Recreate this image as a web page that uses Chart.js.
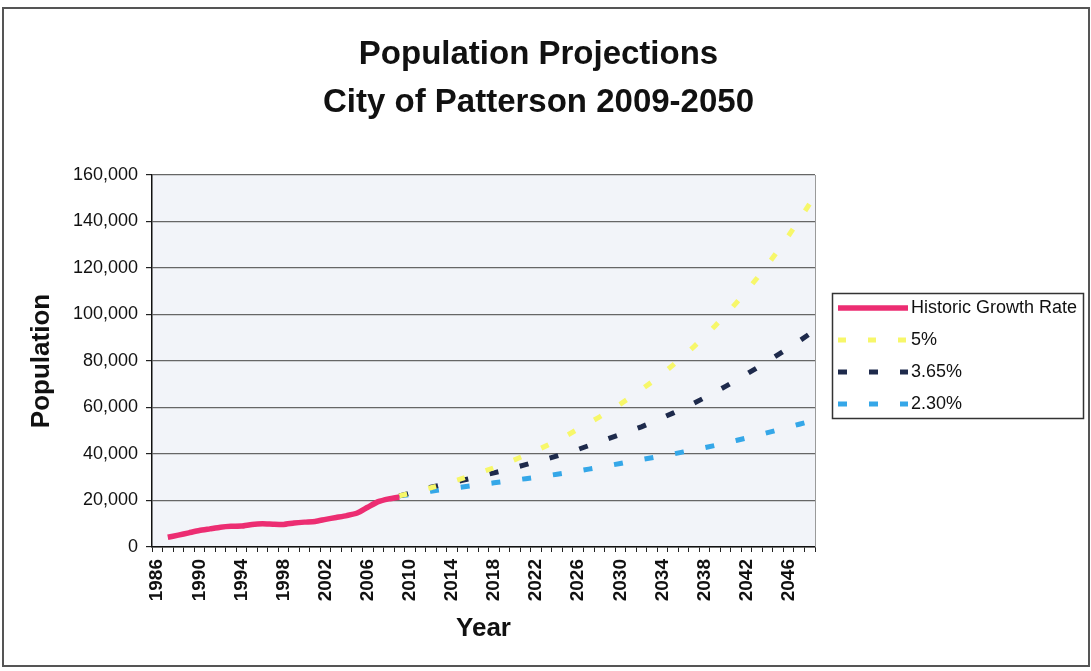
<!DOCTYPE html>
<html>
<head>
<meta charset="utf-8">
<title>Population Projections - City of Patterson</title>
<script src="https://cdn.jsdelivr.net/npm/chart.js@4.4.1/dist/chart.umd.min.js"></script>
<style>
  body { margin: 0; background: #fff; }
  #wrap { width: 1091px; height: 671px; }
</style>
</head>
<body>
<div id="wrap"><canvas id="popChart" width="1091" height="671"></canvas></div>
<script>
// categories: one per year
const years = [
  '1986','1987','1988','1989','1990','1991','1992','1993','1994','1995',
  '1996','1997','1998','1999','2000','2001','2002','2003','2004','2005',
  '2006','2007','2008','2009','2010','2011','2012','2013','2014','2015',
  '2016','2017','2018','2019','2020','2021','2022','2023','2024','2025',
  '2026','2027','2028','2029','2030','2031','2032','2033','2034','2035',
  '2036','2037','2038','2039','2040','2041','2042','2043','2044','2045',
  '2046','2047','2048'
];
const yearLabels = ['1986','1990','1994','1998','2002','2006','2010','2014','2018',
  '2022','2026','2030','2034','2038','2042','2046'];
const yTicks = [0, 20000, 40000, 60000, 80000, 100000, 120000, 140000, 160000];

// 1986 - 2009
const historic = [null, 4200, 5100, 6100, 7100, 7800, 8500, 8900, 9000, 9700,
  10000, 9800, 9700, 10300, 10700, 11000, 11900, 12700, 13500, 14600,
  17100, 19500, 20700, 21500];

// 2009 - 2048
const rate5 = [22000, 23100, 24300, 25500, 26700, 28100, 29500, 31000, 32500, 34100,
  35800, 37600, 39500, 41500, 43600, 45800, 48200, 50800, 53300, 55900,
  58600, 61500, 64500, 67700, 71000, 74500, 78200, 82100, 86200, 90600,
  95100, 99900, 104900, 110200, 115700, 121500, 127600, 134000, 140700, 147700];
const rate365 = [22000, 23200, 24500, 25700, 26700, 27700, 28700, 29700, 30800, 31900,
  33000, 34200, 35400, 36700, 37900, 39200, 40600, 42000, 43600, 45200,
  46800, 48400, 50000, 51700, 53600, 55600, 57600, 59700, 61900, 64200,
  66600, 69100, 71700, 74400, 77100, 79900, 82700, 85600, 88600, 91700];
const rate230 = [22000, 22600, 23300, 24000, 24600, 25200, 25800, 26400, 27000, 27600,
  28200, 28800, 29400, 30000, 30600, 31300, 32000, 32700, 33500, 34300,
  35100, 35900, 36800, 37600, 38400, 39200, 40000, 40900, 41800, 42700,
  43700, 44700, 45800, 46900, 48000, 49200, 50400, 51600, 52800, 54000];

const FONT = "'Liberation Sans', Arial, Helvetica, sans-serif";
const lead = Array(years.indexOf('2009')).fill(null);

const plotBackground = {
  id: 'plotBackground',
  beforeDraw(chart) {
    const {ctx, chartArea: a} = chart;
    ctx.save();
    ctx.fillStyle = '#fff';
    ctx.fillRect(0, 0, chart.width, chart.height);
    ctx.fillStyle = '#f2f4f9';
    ctx.fillRect(a.left, a.top, a.right - a.left, a.bottom - a.top);
    ctx.restore();
  },
  afterDraw(chart) {
    const {ctx, chartArea: a} = chart;
    ctx.save();
    // right edge of plot
    ctx.strokeStyle = '#9a9a9a';
    ctx.lineWidth = 1;
    ctx.beginPath();
    ctx.moveTo(a.right + 0.5, a.top);
    ctx.lineTo(a.right + 0.5, a.bottom);
    ctx.stroke();
    // outer frame
    ctx.strokeStyle = '#555';
    ctx.lineWidth = 2;
    ctx.strokeRect(3, 8, chart.width - 5, chart.height - 13);
    ctx.restore();
  }
};

const boxLegend = {
  id: 'boxLegend',
  afterDraw(chart) {
    const {ctx, chartArea: a} = chart;
    const left = a.right + 17, top = 293, w = 251, h = 125;
    ctx.save();
    ctx.fillStyle = '#fff';
    ctx.fillRect(left, top, w, h);
    ctx.strokeStyle = '#333';
    ctx.lineWidth = 1.5;
    ctx.strokeRect(left + 0.5, top + 0.5, w, h);
    ctx.font = '18px ' + FONT;
    ctx.textBaseline = 'middle';
    chart.data.datasets.forEach((ds, i) => {
      const y = top + 15 + i * 32;
      ctx.strokeStyle = ds.borderColor;
      ctx.lineWidth = ds.borderWidth;
      ctx.setLineDash(ds.borderDash || []);
      ctx.beginPath();
      ctx.moveTo(left + 6, y);
      ctx.lineTo(left + 76, y);
      ctx.stroke();
      ctx.setLineDash([]);
      ctx.fillStyle = '#111';
      ctx.fillText(ds.label, left + 79, y);
    });
    ctx.restore();
  }
};

const ctx = document.getElementById('popChart').getContext('2d');

const chart = new Chart(ctx, {
  type: 'line',
  data: {
    labels: years,
    datasets: [{
      label: 'Historic Growth Rate',
      data: historic,
      borderColor: '#ec2d72',
      borderWidth: 5.5,
      pointRadius: 0,
      tension: 0.2
    }, {
      label: '5%',
      data: lead.concat(rate5),
      borderColor: '#f7f76a',
      borderWidth: 5,
      borderDash: [8, 22],
      pointRadius: 0
    }, {
      label: '3.65%',
      data: lead.concat(rate365),
      borderColor: '#1e2a4c',
      borderWidth: 5,
      borderDash: [9, 22],
      pointRadius: 0
    }, {
      label: '2.30%',
      data: lead.concat(rate230),
      borderColor: '#35a7e8',
      borderWidth: 5,
      borderDash: [9, 22],
      pointRadius: 0
    }]
  },
  options: {
    responsive: false,
    animation: false,
    layout: { padding: { left: 0, right: 14, top: 0, bottom: 0 } },
    plugins: {
      legend: { display: false },
      tooltip: { enabled: false },
      title: {
        display: true,
        text: ['Population Projections', 'City of Patterson 2009-2050'],
        color: '#111',
        font: { family: FONT, size: 33, weight: 'bold', lineHeight: 1.455 },
        padding: { top: 31, bottom: 48 }
      }
    },
    scales: {
      x: {
        offset: true,
        grid: { display: true, drawOnChartArea: false, offset: true, tickLength: 5, color: '#222' },
        border: { color: '#111', width: 1.5 },
        ticks: {
          autoSkip: false,
          minRotation: 90,
          maxRotation: 90,
          padding: 7,
          color: '#111',
          font: { family: FONT, size: 19, weight: 'bold' },
          callback: function (v) {
            const lab = this.getLabelForValue(v);
            return yearLabels.includes(lab) ? lab : '';
          }
        },
        title: {
          display: true,
          text: 'Year',
          color: '#111',
          font: { family: FONT, size: 26, weight: 'bold' },
          padding: { top: 4, bottom: 27 }
        },
        afterFit: s => { s.height = 124; }
      },
      y: {
        min: 0,
        max: 160000,
        afterBuildTicks: s => { s.ticks = yTicks.map(v => ({ value: v })); },
        grid: { color: '#666', lineWidth: 1.2, tickLength: 6, tickColor: '#222' },
        border: { color: '#111', width: 1.5 },
        ticks: {
          padding: 8,
          color: '#111',
          font: { family: FONT, size: 18 },
          callback: v => v.toLocaleString('en-US')
        },
        title: {
          display: true,
          text: 'Population',
          color: '#111',
          font: { family: FONT, size: 26, weight: 'bold' },
          padding: { top: 26, bottom: 0 }
        },
        afterFit: s => { s.width = 152; }
      },
      yRight: {
        position: 'right',
        display: true,
        grid: { display: false },
        border: { display: false },
        ticks: { display: false },
        afterFit: s => { s.width = 262; }
      }
    }
  },
  plugins: [plotBackground, boxLegend]
});
</script>
</body>
</html>
